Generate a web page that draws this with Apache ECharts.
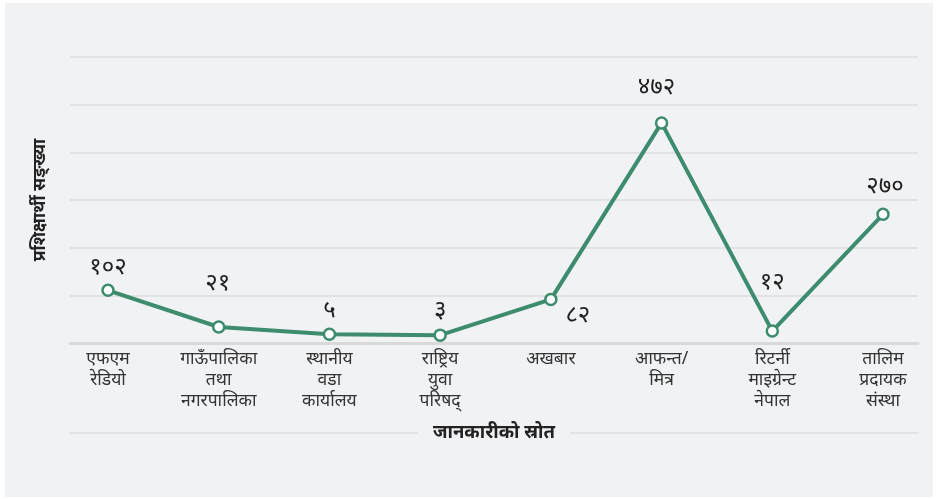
<!DOCTYPE html>
<html>
<head>
<meta charset="utf-8">
<script src="https://cdn.jsdelivr.net/npm/echarts@6/dist/echarts.min.js"></script>
<style>
    html, body { margin: 0; padding: 0; background: #fff; }
    .wrap { position: relative; width: 940px; height: 499px; }
    .panel { position: absolute; left: 5px; top: 3px; width: 928px; height: 494px; background: #f1f2f4; }
    #chart { position: absolute; left: 0; top: 0; width: 940px; height: 499px; }
</style>
</head>
<body>
<div class="wrap">
    <div class="panel"></div>
    <div id="chart"></div>
</div>
<script>
var categories = [
    'एफएम\nरेडियो',
    'गाऊँपालिका\nतथा\nनगरपालिका',
    'स्थानीय\nवडा\nकार्यालय',
    'राष्ट्रिय\nयुवा\nपरिषद्',
    'अखबार',
    'आफन्त/\nमित्र',
    'रिटर्नी\nमाइग्रेन्ट\nनेपाल',
    'तालिम\nप्रदायक\nसंस्था'
];
var trainees = [102, 21, 5, 3, 82, 472, 12, 270];
var yTicks = [0, 100, 200, 300, 400, 500, 600];

var font = '"Noto Sans", "DejaVu Sans", sans-serif';
var green = '#3d8c6e';
var panelBg = '#f1f2f4';

// nepali digits for the point labels
function toNepali(n) {
    var d = '०१२३४५६७८९';
    return String(n).replace(/[0-9]/g, function (c) { return d[+c]; });
}

// where each value label sits, relative to its point
var labelOffsets = [[0, -23], [-1, -44], [0, -24], [0, -25], [27, 16], [-5, -36], [0, -49], [2, -28]];

var pointData = trainees.map(function (v, i) {
    return {
        value: v,
        label: { offset: labelOffsets[i] }
    };
});

var chart = echarts.init(document.getElementById('chart'));
var option = {
    backgroundColor: 'transparent',
    animation: false,
    grid: [
        { left: 70, right: 22, top: 57, bottom: 156 },
        { left: 108, right: 57, top: 65, bottom: 162.5 }
    ],
    xAxis: [
        {
            gridIndex: 0,
            type: 'value',
            min: 0,
            max: 1,
            axisLine: { show: true, lineStyle: { color: '#d9d9d9', width: 3 } },
            axisTick: { show: false },
            axisLabel: { show: false },
            splitLine: { show: false }
        },
        {
            gridIndex: 0,
            type: 'value',
            min: 0,
            max: 1,
            position: 'bottom',
            offset: 90,
            axisLine: { show: true, lineStyle: { color: '#dedede', width: 1.5 } },
            axisTick: { show: false },
            axisLabel: { show: false },
            splitLine: { show: false }
        },
        {
            gridIndex: 1,
            type: 'category',
            data: categories,
            boundaryGap: false,
            axisLine: { show: false },
            axisTick: { show: false },
            axisLabel: {
                interval: 0,
                margin: 12,
                fontFamily: font,
                fontSize: 17.5,
                lineHeight: 21,
                color: '#333',
                align: 'center'
            }
        }
    ],
    yAxis: [
        {
            gridIndex: 0,
            type: 'value',
            min: yTicks[0],
            max: yTicks[yTicks.length - 1],
            interval: 100,
            axisLine: { show: false },
            axisTick: { show: false },
            axisLabel: { show: false },
            splitLine: { lineStyle: { color: '#dcdcdc', width: 1.5 } },
            name: 'प्रशिक्षार्थी सङ्ख्या',
            nameLocation: 'middle',
            nameGap: 21,
            nameTextStyle: {
                fontFamily: font,
                fontSize: 17.5,
                fontWeight: 'bold',
                color: '#222'
            }
        },
        {
            gridIndex: 1,
            type: 'value',
            min: yTicks[0],
            max: yTicks[yTicks.length - 1],
            interval: 100,
            show: false
        }
    ],
    // x axis title sits on the lower rule with a gap cut out of it
    graphic: [
        {
            type: 'rect',
            x: 418,
            y: 423,
            shape: { width: 152, height: 20 },
            style: { fill: panelBg },
            z: 100
        },
        {
            type: 'text',
            x: 494,
            y: 433,
            style: {
                text: 'जानकारीको स्रोत',
                font: 'bold 18.5px ' + font,
                fill: '#222',
                textAlign: 'center',
                textVerticalAlign: 'middle'
            },
            z: 101
        }
    ],
    series: [
        {
            type: 'line',
            xAxisIndex: 2,
            yAxisIndex: 1,
            data: pointData,
            symbol: 'circle',
            symbolSize: 11,
            lineStyle: { color: green, width: 4 },
            itemStyle: { color: '#fff', borderColor: green, borderWidth: 2.5 },
            label: {
                show: true,
                position: 'inside',
                fontFamily: font,
                fontSize: 24,
                color: '#222',
                formatter: function (p) { return toNepali(p.value); }
            },
            z: 5
        }
    ]
};
chart.setOption(option);
</script>
</body>
</html>
